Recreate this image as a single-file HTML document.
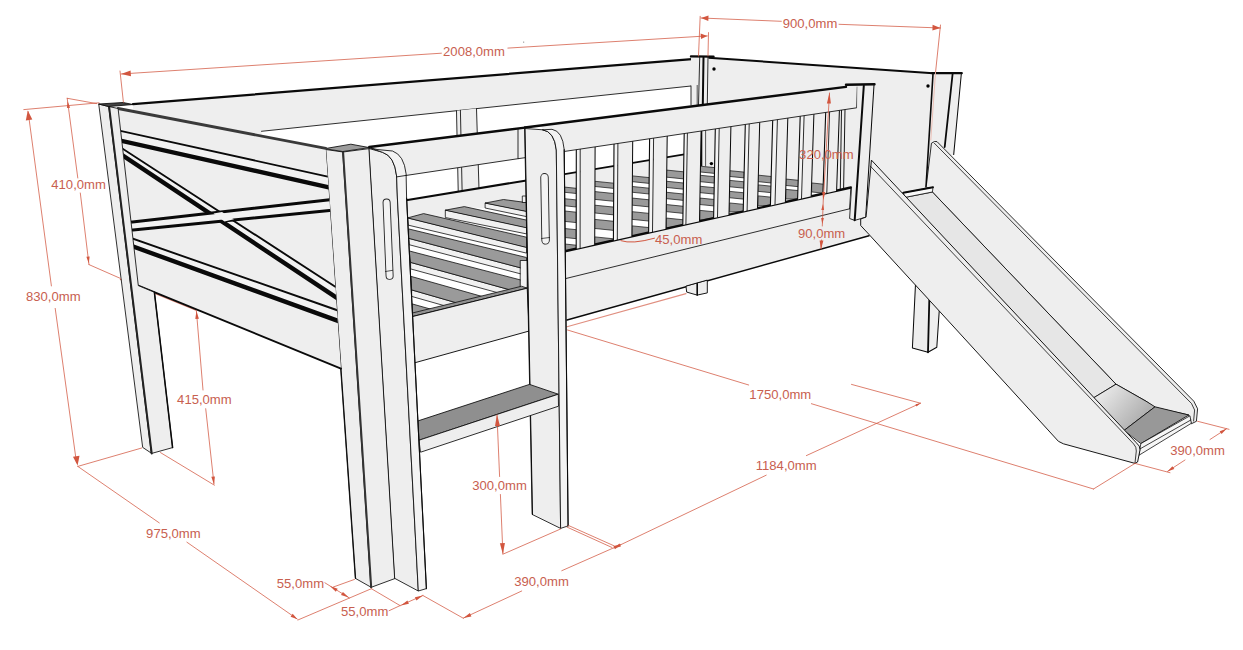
<!DOCTYPE html>
<html><head><meta charset="utf-8"><title>Bed with slide - dimensions</title>
<style>
html,body{margin:0;padding:0;background:#fff;}
body{width:1243px;height:650px;overflow:hidden;}
svg{display:block;font-family:"Liberation Sans",sans-serif;}
</style></head><body>
<svg width="1243" height="650" viewBox="0 0 1243 650" stroke-linejoin="round" stroke-linecap="round">
<rect width="1243" height="650" fill="#fff"/>
<polygon points="708.5,57.7 933,73.2 926,192 900,200 860,225 708,225" fill="#eeeeee" stroke="none" stroke-width="1.0" />
<polyline points="708.5,57.7 933,73.2" fill="none" stroke="#0a0a0a" stroke-width="2.0" />
<circle cx="714" cy="69" r="1.7" fill="#000"/>
<circle cx="928" cy="86" r="1.7" fill="#000"/>
<polygon points="933,73.2 961.5,73.2 953.7,154.6 940,160 926,187" fill="#eeeeee" stroke="none" stroke-width="1.0" />
<polyline points="933,74 926,187" fill="none" stroke="#0a0a0a" stroke-width="1.6" />
<polyline points="952.6,74 944.7,147" fill="none" stroke="#0a0a0a" stroke-width="1.8" />
<polyline points="961.3,74 953.7,154.6" fill="none" stroke="#0a0a0a" stroke-width="1.02" />
<polyline points="932,73.2 961.8,73.2" fill="none" stroke="#0a0a0a" stroke-width="2.2" />
<polygon points="133,104.2 699,58.5 699,85.2 261.5,131.3 261.5,140 133,112" fill="#eeeeee" stroke="none" stroke-width="1.0" />
<polyline points="261.5,131.3 691,86" fill="none" stroke="#0a0a0a" stroke-width="0.85" />
<polyline points="133,104.2 692,59.1" fill="none" stroke="#0a0a0a" stroke-width="2.2" />
<polygon points="691,57 708.5,57 707.3,106 691,106" fill="#eeeeee" stroke="none" stroke-width="1.0" />
<polyline points="691,86 691,105" fill="none" stroke="#0a0a0a" stroke-width="0.85" />
<polyline points="697.2,85.4 697.2,105" fill="none" stroke="#0a0a0a" stroke-width="0.68" />
<polyline points="699.7,57.5 698.5,105" fill="none" stroke="#0a0a0a" stroke-width="0.85" />
<polyline points="703.5,57.5 702.8,105" fill="none" stroke="#0a0a0a" stroke-width="2.0" />
<polyline points="708,57.5 707.3,105" fill="none" stroke="#0a0a0a" stroke-width="0.85" />
<polyline points="691,56.4 713.5,56.6" fill="none" stroke="#0a0a0a" stroke-width="2.4" />
<polygon points="456.5,110.8 476.5,108.6 479.2,195 458.3,195" fill="#eeeeee" stroke="none" stroke-width="1.0" />
<polyline points="456.5,110.8 458.3,195" fill="none" stroke="#0a0a0a" stroke-width="0.85" />
<polyline points="460.4,110.3 462.2,195" fill="none" stroke="#0a0a0a" stroke-width="0.85" />
<polyline points="476.5,108.6 479.2,195" fill="none" stroke="#0a0a0a" stroke-width="0.85" />
<polygon points="400,201.2 526.5,180.4 526.2,202.5 522.7,202.5 503.5,199.5 485.5,203 485.5,208.1 483.4,208.6 464.3,206.6 445.7,210.1 445.7,216.6 439.2,217.6 423.6,213.6 408,217.6 400,218" fill="#eeeeee" stroke="none" stroke-width="1.0" />
<polyline points="400,201.2 526.5,180.4" fill="none" stroke="#0a0a0a" stroke-width="2.0" />
<clipPath id="slc"><polygon points="400,190 527,190 527.2,288.2 405,318.4"/></clipPath>
<g clip-path="url(#slc)">
<polygon points="485.5,203 526.5,211.1 526.5,216.6 485.5,208.1" fill="#f1f1f1" stroke="#0a0a0a" stroke-width="0.77" />
<polygon points="485.5,203 503.5,199.5 526.5,202.6 526.5,211.1" fill="#9a9a9a" stroke="#0a0a0a" stroke-width="0.77" />
<polygon points="445.7,210.1 526.5,227.4 526.5,233.9 445.7,217.6" fill="#f1f1f1" stroke="#0a0a0a" stroke-width="0.77" />
<polygon points="445.7,210.1 464.3,206.6 526.5,220.1 526.5,227.4" fill="#9a9a9a" stroke="#0a0a0a" stroke-width="0.77" />
<polygon points="408,218 526.5,247.1 526.5,253.1 408.5,225.2" fill="#f1f1f1" stroke="#0a0a0a" stroke-width="0.77" />
<polygon points="408,217.8 423.6,213.6 526.5,237.2 526.5,247.1" fill="#9a9a9a" stroke="#0a0a0a" stroke-width="0.77" />
<polygon points="409,238.4 526.5,269.4 526.5,275.4 409.5,244.8" fill="#f1f1f1" stroke="#0a0a0a" stroke-width="0.77" />
<polygon points="409,229 526.5,257.5 526.5,269.4 409,238.4" fill="#9a9a9a" stroke="#0a0a0a" stroke-width="0.77" />
<polygon points="411,262.5 526.5,294.4 526.5,300.6 411,269" fill="#f1f1f1" stroke="#0a0a0a" stroke-width="0.77" />
<polygon points="409.5,251 526.5,281.5 526.5,294.4 411,262.5" fill="#9a9a9a" stroke="#0a0a0a" stroke-width="0.77" />
<polygon points="412,290 526.5,323 526.5,329 412,296.5" fill="#f1f1f1" stroke="#0a0a0a" stroke-width="0.77" />
<polygon points="411.5,276.5 526.5,309 526.5,323 412,290" fill="#9a9a9a" stroke="#0a0a0a" stroke-width="0.77" />
<polygon points="412.5,304 526.5,336 526.5,350 412.5,316" fill="#9a9a9a" stroke="#0a0a0a" stroke-width="0.77" />
</g>
<polygon points="520.6,260.5 527.2,260.5 527.2,288 520.6,288" fill="#f2f2f2" stroke="#0a0a0a" stroke-width="0.77" />
<polygon points="522.7,196 526.4,196 526.4,202.5 522.7,202.5" fill="#f2f2f2" stroke="#0a0a0a" stroke-width="0.77" />
<polygon points="405,314.8 521.7,286.2 527.2,288.2 405,318.4" fill="#909090" stroke="#0a0a0a" stroke-width="0.77" />
<polygon points="405,318.4 527.2,288.2 529.2,331 405,365.5" fill="#eeeeee" stroke="#0a0a0a" stroke-width="0.94" />
<clipPath id="gapsL"><polygon points="560,152.1 700.4,131.1 700.4,221 560,252.3"/></clipPath>
<g clip-path="url(#gapsL)">
<polygon points="560,174.9 701,151.6 701,240 560,255" fill="#eeeeee" stroke="none" stroke-width="1.0" />
<polyline points="560,174.9 701,151.6" fill="none" stroke="#0a0a0a" stroke-width="1.8" />
</g>
<polygon points="700.4,131.1 852,108.5 852,187.3 700.4,221" fill="#eeeeee" stroke="none" stroke-width="1.0" />
<polyline points="701.3,130 701.3,166" fill="none" stroke="#0a0a0a" stroke-width="2.0" />
<polyline points="705.6,130 705.6,166" fill="none" stroke="#0a0a0a" stroke-width="0.68" />
<circle cx="711.4" cy="163.6" r="1.7" fill="#000"/>
<polygon points="564.7,187.1 576.3,188.3 576.3,248.7 564.7,251.3" fill="#fff" stroke="none" stroke-width="1.0" />
<polygon points="564.7,187.1 576.3,188.3 576.3,193.5 564.7,192.3" fill="#9a9a9a" stroke="#0a0a0a" stroke-width="0.68" />
<polygon points="564.7,198.7 576.3,199.9 576.3,207 564.7,205.8" fill="#9a9a9a" stroke="#0a0a0a" stroke-width="0.68" />
<polygon points="564.7,211 576.3,212.2 576.3,222.6 564.7,221.4" fill="#9a9a9a" stroke="#0a0a0a" stroke-width="0.68" />
<polygon points="564.7,228.5 576.3,229.7 576.3,238.7 564.7,237.5" fill="#9a9a9a" stroke="#0a0a0a" stroke-width="0.68" />
<polygon points="564.7,244 576.3,245.2 576.3,248.7 564.7,251.3" fill="#9a9a9a" stroke="#0a0a0a" stroke-width="0.68" />
<polygon points="595,181.3 613.8,183.2 613.8,240.3 595,244.5" fill="#fff" stroke="none" stroke-width="1.0" />
<polygon points="595,181.3 613.8,183.2 613.8,188.4 595,186.5" fill="#9a9a9a" stroke="#0a0a0a" stroke-width="0.68" />
<polygon points="595,191.6 613.8,193.5 613.8,201.3 595,199.4" fill="#9a9a9a" stroke="#0a0a0a" stroke-width="0.68" />
<polygon points="595,205.2 613.8,207.1 613.8,214.9 595,213" fill="#9a9a9a" stroke="#0a0a0a" stroke-width="0.68" />
<polygon points="595,219.4 613.8,221.3 613.8,230.4 595,228.5" fill="#9a9a9a" stroke="#0a0a0a" stroke-width="0.68" />
<polygon points="595,236.9 613.8,238.8 613.8,240.3 595,244.5" fill="#9a9a9a" stroke="#0a0a0a" stroke-width="0.68" />
<polygon points="632.5,175.9 649.3,177.6 649.3,232.4 632.5,236.2" fill="#fff" stroke="none" stroke-width="1.0" />
<polygon points="632.5,175.9 649.3,177.6 649.3,183.4 632.5,181.7" fill="#9a9a9a" stroke="#0a0a0a" stroke-width="0.68" />
<polygon points="632.5,186.5 649.3,188.2 649.3,194 632.5,192.3" fill="#9a9a9a" stroke="#0a0a0a" stroke-width="0.68" />
<polygon points="632.5,198.1 649.3,199.8 649.3,206.9 632.5,205.2" fill="#9a9a9a" stroke="#0a0a0a" stroke-width="0.68" />
<polygon points="632.5,211.7 649.3,213.4 649.3,221.1 632.5,219.4" fill="#9a9a9a" stroke="#0a0a0a" stroke-width="0.68" />
<polygon points="632.5,225.9 649.3,227.6 649.3,232.4 632.5,236" fill="#9a9a9a" stroke="#0a0a0a" stroke-width="0.68" />
<polygon points="666.8,170.1 683.6,171.8 683.6,224.8 666.8,228.5" fill="#fff" stroke="none" stroke-width="1.0" />
<polygon points="666.8,170.1 683.6,171.8 683.6,178.9 666.8,177.2" fill="#9a9a9a" stroke="#0a0a0a" stroke-width="0.68" />
<polygon points="666.8,181.3 683.6,183 683.6,189.2 666.8,187.5" fill="#9a9a9a" stroke="#0a0a0a" stroke-width="0.68" />
<polygon points="666.8,192.3 683.6,194 683.6,200.4 666.8,198.7" fill="#9a9a9a" stroke="#0a0a0a" stroke-width="0.68" />
<polygon points="666.8,204.6 683.6,206.3 683.6,213.4 666.8,211.7" fill="#9a9a9a" stroke="#0a0a0a" stroke-width="0.68" />
<polygon points="666.8,218.1 683.6,219.8 683.6,224.8 666.8,228" fill="#9a9a9a" stroke="#0a0a0a" stroke-width="0.68" />
<polygon points="700.4,166.2 714.6,167.6 714.6,217.9 700.4,221" fill="#fff" stroke="none" stroke-width="1.0" />
<polygon points="700.4,166.2 714.6,167.6 714.6,173.4 700.4,172" fill="#9a9a9a" stroke="#0a0a0a" stroke-width="0.68" />
<polygon points="700.4,175.3 714.6,176.7 714.6,183.1 700.4,181.7" fill="#9a9a9a" stroke="#0a0a0a" stroke-width="0.68" />
<polygon points="700.4,186.3 714.6,187.7 714.6,194.1 700.4,192.7" fill="#9a9a9a" stroke="#0a0a0a" stroke-width="0.68" />
<polygon points="700.4,198.1 714.6,199.5 714.6,206 700.4,204.6" fill="#9a9a9a" stroke="#0a0a0a" stroke-width="0.68" />
<polygon points="700.4,210.4 714.6,211.8 714.6,217.9 700.4,220" fill="#9a9a9a" stroke="#0a0a0a" stroke-width="0.68" />
<polygon points="730,170.7 744.2,172.1 744.2,211.3 730,214.4" fill="#fff" stroke="none" stroke-width="1.0" />
<polygon points="730,170.7 744.2,172.1 744.2,177.9 730,176.5" fill="#9a9a9a" stroke="#0a0a0a" stroke-width="0.68" />
<polygon points="730,180.4 744.2,181.8 744.2,188.2 730,186.8" fill="#9a9a9a" stroke="#0a0a0a" stroke-width="0.68" />
<polygon points="730,191.4 744.2,192.8 744.2,199.2 730,197.8" fill="#9a9a9a" stroke="#0a0a0a" stroke-width="0.68" />
<polygon points="730,203 744.2,204.4 744.2,211.3 730,212" fill="#9a9a9a" stroke="#0a0a0a" stroke-width="0.68" />
<polygon points="758.5,175.2 771.4,176.5 771.4,205.2 758.5,208.1" fill="#fff" stroke="none" stroke-width="1.0" />
<polygon points="758.5,175.2 771.4,176.5 771.4,183 758.5,181.7" fill="#9a9a9a" stroke="#0a0a0a" stroke-width="0.68" />
<polygon points="758.5,184.9 771.4,186.2 771.4,192.7 758.5,191.4" fill="#9a9a9a" stroke="#0a0a0a" stroke-width="0.68" />
<polygon points="758.5,195.9 771.4,197.2 771.4,205.2 758.5,206" fill="#9a9a9a" stroke="#0a0a0a" stroke-width="0.68" />
<polygon points="786.3,179.1 798.5,180.3 798.5,199.2 786.3,201.9" fill="#fff" stroke="none" stroke-width="1.0" />
<polygon points="786.3,179.1 798.5,180.3 798.5,186.7 786.3,185.5" fill="#9a9a9a" stroke="#0a0a0a" stroke-width="0.68" />
<polygon points="786.3,189.4 798.5,190.6 798.5,199.2 786.3,199" fill="#9a9a9a" stroke="#0a0a0a" stroke-width="0.68" />
<polygon points="812.1,183 823.7,184.2 823.7,193.6 812.1,196.1" fill="#fff" stroke="none" stroke-width="1.0" />
<polygon points="812.1,183 823.7,184.2 823.7,193.2 812.1,192" fill="#9a9a9a" stroke="#0a0a0a" stroke-width="0.68" />
<polyline points="567,326.8 686,293.6" fill="none" stroke="#e08f80" stroke-width="1.1" />
<polygon points="566,278.5 849.6,208.8 869,235.7 567,320" fill="#eeeeee" stroke="none" stroke-width="1.0" />
<polyline points="567,320 869,235.7" fill="none" stroke="#0a0a0a" stroke-width="1.5" />
<polygon points="566,251 850.9,187.5 849.6,208.8 566,278.5" fill="#eeeeee" stroke="none" stroke-width="1.0" />
<polyline points="566,278.5 849.6,208.8" fill="none" stroke="#0a0a0a" stroke-width="0.85" />
<polyline points="566,251 850.9,187.5" fill="none" stroke="#0a0a0a" stroke-width="2.4" />
<polyline points="850.9,187.5 849.6,208.8" fill="none" stroke="#0a0a0a" stroke-width="0.85" />
<polygon points="576.3,149.7 580.2,149.1 580.1,247.9 576.2,248.7" fill="#f4f4f4" stroke="none" stroke-width="1.0" />
<polygon points="580.2,149.1 595.1,146.9 594.7,244.6 580.1,247.9" fill="#eeeeee" stroke="none" stroke-width="1.0" />
<polyline points="576.3,149.7 576.2,248.7" fill="none" stroke="#0a0a0a" stroke-width="1.1" />
<polyline points="580.2,149.1 580.1,247.9" fill="none" stroke="#0a0a0a" stroke-width="0.85" />
<polyline points="595.1,146.9 594.7,244.6" fill="none" stroke="#0a0a0a" stroke-width="1.02" />
<polygon points="614,144 617.9,143.5 617.3,239.6 613.4,240.4" fill="#f4f4f4" stroke="none" stroke-width="1.0" />
<polygon points="617.9,143.5 632.7,141.2 631.9,236.3 617.3,239.6" fill="#eeeeee" stroke="none" stroke-width="1.0" />
<polyline points="614,144 613.4,240.4" fill="none" stroke="#0a0a0a" stroke-width="1.1" />
<polyline points="617.9,143.5 617.3,239.6" fill="none" stroke="#0a0a0a" stroke-width="0.85" />
<polyline points="632.7,141.2 631.9,236.3" fill="none" stroke="#0a0a0a" stroke-width="1.02" />
<polygon points="649.6,138.7 653.6,138.1 652.5,231.7 648.6,232.6" fill="#f4f4f4" stroke="none" stroke-width="1.0" />
<polygon points="653.6,138.1 667.2,136.1 666,228.7 652.5,231.7" fill="#eeeeee" stroke="none" stroke-width="1.0" />
<polyline points="649.6,138.7 648.6,232.6" fill="none" stroke="#0a0a0a" stroke-width="1.1" />
<polyline points="653.6,138.1 652.5,231.7" fill="none" stroke="#0a0a0a" stroke-width="0.85" />
<polyline points="667.2,136.1 666,228.7" fill="none" stroke="#0a0a0a" stroke-width="1.02" />
<polygon points="684.2,133.6 687.4,133.1 685.9,224.3 682.8,225" fill="#f4f4f4" stroke="none" stroke-width="1.0" />
<polygon points="687.4,133.1 701.1,131 699.5,221.2 685.9,224.3" fill="#eeeeee" stroke="none" stroke-width="1.0" />
<polyline points="684.2,133.6 682.8,225" fill="none" stroke="#0a0a0a" stroke-width="1.1" />
<polyline points="687.4,133.1 685.9,224.3" fill="none" stroke="#0a0a0a" stroke-width="0.85" />
<polyline points="701.1,131 699.5,221.2" fill="none" stroke="#0a0a0a" stroke-width="1.02" />
<polygon points="715.3,128.9 719.2,128.3 717.5,217.2 713.6,218.1" fill="#f4f4f4" stroke="none" stroke-width="1.0" />
<polygon points="719.2,128.3 730.9,126.6 729,214.7 717.5,217.2" fill="#eeeeee" stroke="none" stroke-width="1.0" />
<polyline points="715.3,128.9 713.6,218.1" fill="none" stroke="#0a0a0a" stroke-width="1.1" />
<polyline points="719.2,128.3 717.5,217.2" fill="none" stroke="#0a0a0a" stroke-width="0.85" />
<polyline points="730.9,126.6 729,214.7" fill="none" stroke="#0a0a0a" stroke-width="1.02" />
<polygon points="745.3,124.4 749.2,123.8 747.1,210.6 743.2,211.5" fill="#f4f4f4" stroke="none" stroke-width="1.0" />
<polygon points="749.2,123.8 759.7,122.3 757.5,208.3 747.1,210.6" fill="#eeeeee" stroke="none" stroke-width="1.0" />
<polyline points="745.3,124.4 743.2,211.5" fill="none" stroke="#0a0a0a" stroke-width="1.1" />
<polyline points="749.2,123.8 747.1,210.6" fill="none" stroke="#0a0a0a" stroke-width="0.85" />
<polyline points="759.7,122.3 757.5,208.3" fill="none" stroke="#0a0a0a" stroke-width="1.02" />
<polygon points="772.7,120.3 777.4,119.6 775,204.4 770.4,205.4" fill="#f4f4f4" stroke="none" stroke-width="1.0" />
<polygon points="777.4,119.6 787.8,118.1 785.4,202.1 775,204.4" fill="#eeeeee" stroke="none" stroke-width="1.0" />
<polyline points="772.7,120.3 770.4,205.4" fill="none" stroke="#0a0a0a" stroke-width="1.1" />
<polyline points="777.4,119.6 775,204.4" fill="none" stroke="#0a0a0a" stroke-width="0.85" />
<polyline points="787.8,118.1 785.4,202.1" fill="none" stroke="#0a0a0a" stroke-width="1.02" />
<polygon points="800.2,116.2 804.1,115.7 801.5,198.5 797.6,199.4" fill="#f4f4f4" stroke="none" stroke-width="1.0" />
<polygon points="804.1,115.7 813.9,114.2 811.2,196.3 801.5,198.5" fill="#eeeeee" stroke="none" stroke-width="1.0" />
<polyline points="800.2,116.2 797.6,199.4" fill="none" stroke="#0a0a0a" stroke-width="1.1" />
<polyline points="804.1,115.7 801.5,198.5" fill="none" stroke="#0a0a0a" stroke-width="0.85" />
<polyline points="813.9,114.2 811.2,196.3" fill="none" stroke="#0a0a0a" stroke-width="1.02" />
<polygon points="825.7,112.4 829.6,111.8 826.8,192.9 822.9,193.7" fill="#f4f4f4" stroke="none" stroke-width="1.0" />
<polygon points="829.6,111.8 839.4,110.4 836.6,190.7 826.8,192.9" fill="#eeeeee" stroke="none" stroke-width="1.0" />
<polyline points="825.7,112.4 822.9,193.7" fill="none" stroke="#0a0a0a" stroke-width="1.1" />
<polyline points="829.6,111.8 826.8,192.9" fill="none" stroke="#0a0a0a" stroke-width="0.85" />
<polyline points="839.4,110.4 836.6,190.7" fill="none" stroke="#0a0a0a" stroke-width="1.02" />
<polyline points="841.5,110.1 840.3,189.9" fill="none" stroke="#0a0a0a" stroke-width="0.94" />
<polyline points="845,109.5 843.6,189.1" fill="none" stroke="#0a0a0a" stroke-width="0.94" />
<polygon points="540,125.6 857.3,85.5 856.7,107.8 560,152.1 552,140" fill="#eeeeee" stroke="none" stroke-width="1.0" />
<polyline points="560,152.1 856.7,107.8 857.3,87" fill="none" stroke="#0a0a0a" stroke-width="0.85" />
<polyline points="525,127.5 846,86.9" fill="none" stroke="#0a0a0a" stroke-width="2.4" />
<polygon points="857.3,85.5 874,84.5 865.7,217.2 854.7,220.4 849.6,218.5 851.2,187.5 856.7,187.5" fill="#eeeeee" stroke="none" stroke-width="1.0" />
<polyline points="851.5,187.5 849.6,218.5 854.7,220.4 865.7,217.2" fill="none" stroke="#0a0a0a" stroke-width="0.85" />
<polyline points="863.8,85.8 854.7,220.2" fill="none" stroke="#0a0a0a" stroke-width="2.0" />
<polyline points="874,85 865.7,217.2" fill="none" stroke="#0a0a0a" stroke-width="1.02" />
<polyline points="846,84.8 874.5,84.3" fill="none" stroke="#0a0a0a" stroke-width="2.4" />
<polygon points="369.3,147 525,127.6 525,157.7 396.4,176.9 380,178" fill="#eeeeee" stroke="none" stroke-width="1.0" />
<polyline points="396.4,176.9 518,158.7" fill="none" stroke="#0a0a0a" stroke-width="0.85" />
<polyline points="518,128.7 518,158.7 525,157.7" fill="none" stroke="#0a0a0a" stroke-width="0.85" />
<polyline points="369.3,147 525,127.6" fill="none" stroke="#0a0a0a" stroke-width="2.4" />
<path d="M525,128.5 L542.7,129.8 Q554.5,131.5 556.3,150 L560.6,528.4 L532.5,514.6 Z" fill="#eeeeee" stroke="#0a0a0a" stroke-width="0.85" />
<path d="M542.7,129.8 L552,129.3 Q562.5,131 564.2,149.5 L568.1,525.9 L560.6,528.4 L556.3,150 Q554.5,131.5 542.7,129.8 Z" fill="#f3f3f3" stroke="#0a0a0a" stroke-width="0.85" />
<polyline points="525,128.5 532.5,514.6" fill="none" stroke="#0a0a0a" stroke-width="1.02" />
<polyline points="564.2,149.5 568.1,525.9" fill="none" stroke="#0a0a0a" stroke-width="1.1" />
<polyline points="544.5,177.3 545.6,240.4" fill="none" stroke="#222" stroke-width="8.4" />
<polyline points="544.5,177.3 545.6,240.4" fill="none" stroke="#f3f3f3" stroke-width="6.6000000000000005" />
<polyline points="541.6,238.5 549.6,237.5" fill="none" stroke="#0a0a0a" stroke-width="0.68" />
<polygon points="418.3,420.8 529.5,384.4 558.3,394.2 419.3,440.1" fill="#8f8f8f" stroke="#0a0a0a" stroke-width="0.85" />
<polygon points="419.3,440.1 558.3,394.2 558.5,406.2 420.9,452.1" fill="#eeeeee" stroke="#0a0a0a" stroke-width="0.85" />
<polygon points="325.7,149.5 343.1,152 371.2,587.3 355.6,578.5" fill="#eeeeee" stroke="#0a0a0a" stroke-width="0.85" />
<polygon points="343.1,152 369.3,148.6 395,578.5 371.2,587.3" fill="#eeeeee" stroke="#0a0a0a" stroke-width="0.85" />
<polyline points="343.1,152 371.2,587.3" fill="none" stroke="#333" stroke-width="2.0" />
<path d="M369.3,148.6 L382.8,152.4 Q394.5,156 396.6,176 L397.4,198 L418.3,591 L395,578.5 Z" fill="#eeeeee" stroke="#0a0a0a" stroke-width="0.85" />
<path d="M369.3,147.6 L377,149.5 L392.5,151 Q404,155 406.1,173.8 L406.6,198 L426.4,588.6 L418.3,591 L397.4,198 L396.6,176 Q394.5,156 382.8,152.4 Z" fill="#f3f3f3" stroke="#0a0a0a" stroke-width="0.85" />
<polyline points="406.6,198 426.4,588.6" fill="none" stroke="#0a0a0a" stroke-width="1.1" />
<polyline points="325.7,149.5 355.6,578.5" fill="none" stroke="#0a0a0a" stroke-width="1.1" />
<polygon points="325.2,148.6 350.9,144.2 369.3,147.6 343.1,151.5" fill="#9c9c9c" stroke="#0a0a0a" stroke-width="0.85" />
<polyline points="396.6,176.9 406.3,175.4" fill="none" stroke="#0a0a0a" stroke-width="0.85" />
<polyline points="386.6,202.5 389.6,275.8" fill="none" stroke="#222" stroke-width="8.0" />
<polyline points="386.6,202.5 389.6,275.8" fill="none" stroke="#f3f3f3" stroke-width="6.2" />
<polyline points="385.5,271.5 392.6,270.3" fill="none" stroke="#0a0a0a" stroke-width="0.68" />
<polyline points="120.4,279.4 196,310.3" fill="none" stroke="#dd8070" stroke-width="1.2" />
<polygon points="118.1,108.5 325.8,148.8 341,368.6 138.3,285.6" fill="#eeeeee" stroke="none" stroke-width="1.0" />
<clipPath id="hb"><polygon points="118.1,108.5 325.8,148.8 341,368.6 138.3,285.6"/></clipPath>
<g clip-path="url(#hb)">
<polygon points="118,130.4 330,177.1 330,187.6 118,140.1" fill="#f2f2f2" stroke="none" stroke-width="1.0" />
<polyline points="118,130.4 330,177.1" fill="none" stroke="#0a0a0a" stroke-width="1.9" />
<polyline points="118,140.1 330,187.6" fill="none" stroke="#0a0a0a" stroke-width="4.4" />
<polygon points="118,233.5 338,310.5 338,320.9 118,241" fill="#f2f2f2" stroke="none" stroke-width="1.0" />
<polyline points="118,233.5 338,310.5" fill="none" stroke="#0a0a0a" stroke-width="1.9" />
<polyline points="118,241 338,320.9" fill="none" stroke="#0a0a0a" stroke-width="4.4" />
<polygon points="118,145.7 338,288.5 338,298.7 118,152.4" fill="#f2f2f2" stroke="none" stroke-width="1.0" />
<polyline points="118,145.7 338,288.5" fill="none" stroke="#0a0a0a" stroke-width="1.9" />
<polyline points="118,152.4 338,298.7" fill="none" stroke="#0a0a0a" stroke-width="4.4" />
<polygon points="128,222.4 332,199.5 332,210.2 128,230.5" fill="#f2f2f2" stroke="none" stroke-width="1.0" />
<polyline points="128,222.4 332,199.5" fill="none" stroke="#0a0a0a" stroke-width="3.0" />
<polyline points="128,230.5 332,210.2" fill="none" stroke="#0a0a0a" stroke-width="3.0" />
<polygon points="213.5,213.6 222,212 234,219.3 224.5,221.5" fill="#f2f2f2" stroke="none" stroke-width="1.0" />
</g>
<polyline points="118.1,108.5 325.8,148.4" fill="none" stroke="#3a3a3a" stroke-width="2.9" />
<polyline points="138.3,285.6 341,368.6" fill="none" stroke="#0a0a0a" stroke-width="1.8" />
<polygon points="99.1,104.1 109.1,106.6 151.7,453.4 143,447.6" fill="#eeeeee" stroke="#0a0a0a" stroke-width="0.85" />
<polygon points="109.1,106.6 118.1,108.5 138.3,285.6 154.4,292.3 172.6,447.6 151.7,453.4" fill="#eeeeee" stroke="#0a0a0a" stroke-width="0.85" />
<polyline points="109.1,106.6 151.7,453.4" fill="none" stroke="#222" stroke-width="2.0" />
<polyline points="154.4,292.3 172.6,447.6" fill="none" stroke="#0a0a0a" stroke-width="1.5" />
<polygon points="99,104 123,102.5 133,104.5 109,106.5" fill="#444" stroke="#0a0a0a" stroke-width="0.85" />
<polygon points="931.8,143 934.5,141.5 937,141.6 1193.8,401.2 1197.6,408.8 1196.4,421.3 1191.3,423.8 1188.8,415 1155,407.5 1146,401.2 1116,384.2 932.4,192 926.5,187" fill="#eeeeee" stroke="#0a0a0a" stroke-width="0.85" />
<polyline points="934.3,143.2 1191.5,403.5 1194.6,410 1193.6,421" fill="none" stroke="#0a0a0a" stroke-width="0.77" />
<linearGradient id="cg" gradientUnits="userSpaceOnUse" x1="1105" y1="390" x2="1140" y2="420"><stop offset="0" stop-color="#e6e6e6"/><stop offset="1" stop-color="#b0b0b0"/></linearGradient>
<polygon points="906,197.2 932.4,192 1116,384.2 1094,397.6" fill="#e6e6e6" stroke="#0a0a0a" stroke-width="0.85" />
<polygon points="1094,397.6 1116,384.2 1146,401.2 1155,406.8 1124.5,430.1" fill="url(#cg)" stroke="#0a0a0a" stroke-width="0.85" />
<polygon points="1124.5,430.1 1155,406.8 1188.8,415 1141.2,443.4" fill="#989898" stroke="#0a0a0a" stroke-width="0.85" />
<polygon points="1141.2,443.4 1190,415.8 1191.3,423.3 1139.2,455.1" fill="#f6f6f6" stroke="#0a0a0a" stroke-width="0.77" />
<polyline points="1140,448.9 1190.8,420" fill="none" stroke="#0a0a0a" stroke-width="0.77" />
<polygon points="903.3,192.7 933,187.3 932.4,192 906,197.2" fill="#f8f8f8" stroke="#0a0a0a" stroke-width="0.77" />
<polyline points="903.3,192.7 933,187.3" fill="none" stroke="#0a0a0a" stroke-width="2.0" />
<polygon points="915.5,284 939.3,310 936.8,347.3 928,352.3 912.4,348" fill="#eeeeee" stroke="#0a0a0a" stroke-width="1.02" />
<polyline points="929.3,300 928,352.3" fill="none" stroke="#0a0a0a" stroke-width="1.8" />
<path d="M871.7,160.4 L1136.2,442.6 Q1140.5,446 1140,450 L1137.6,462 L1135,463.4 L1063.4,443.8 L1058.4,441.3 L953,326 L869.7,235.2 L860.7,225.5 L860.7,219 L865.7,217.2 Z" fill="#eeeeee" stroke="#0a0a0a" stroke-width="0.94" />
<path d="M870.4,166.2 L1133.6,443.9 Q1136.6,447 1136.3,451 L1135,463" fill="none" stroke="#0a0a0a" stroke-width="0.77" />
<polygon points="686,286.5 686.7,292.1 697.2,295.1 707.3,292.9 707.3,280.5" fill="#eeeeee" stroke="#0a0a0a" stroke-width="0.94" />
<polyline points="697.2,283.5 697.2,295.1" fill="none" stroke="#0a0a0a" stroke-width="1.6" />
<g id="dims">
<polyline points="120,71 123.4,102.3" fill="none" stroke="#d2563f" stroke-width="0.75" />
<polyline points="708.5,32.6 708,56" fill="none" stroke="#d2563f" stroke-width="0.75" />
<polyline points="121.1,74 441.4,53.2" fill="none" stroke="#d2563f" stroke-width="0.75" />
<polyline points="507.9,48.1 707.3,35.9" fill="none" stroke="#d2563f" stroke-width="0.75" />
<polygon points="121.1,74 130.6,70.5 131,76.3" fill="#d2563f"/>
<polygon points="707.3,35.9 701,39 700.6,33.6" fill="#d2563f"/>
<text x="474" y="56.1" font-size="13.1" text-anchor="middle" fill="#c8604f">2008,0mm</text>
<circle cx="523.7" cy="42.1" r="0.6" fill="#777"/>
<polyline points="700.2,16.3 698.5,56" fill="none" stroke="#d2563f" stroke-width="0.75" />
<polyline points="940.5,25 935.5,72.7" fill="none" stroke="#d2563f" stroke-width="0.75" />
<polyline points="935.5,72.7 930.8,140" fill="none" stroke="#ecc0b6" stroke-width="1.0" />
<polyline points="701,18 781.3,21.3" fill="none" stroke="#d2563f" stroke-width="0.75" />
<polyline points="839,24.3 940.5,28" fill="none" stroke="#d2563f" stroke-width="0.75" />
<polygon points="701,18 708.5,15.6 708.3,21.1" fill="#d2563f"/>
<polygon points="940.5,28 932.4,30.6 932.6,24.8" fill="#d2563f"/>
<text x="810" y="27.7" font-size="13.1" text-anchor="middle" fill="#c8604f">900,0mm</text>
<polyline points="23.8,109.6 99,102.8" fill="none" stroke="#d2563f" stroke-width="0.75" />
<polyline points="77.8,466.4 141.7,448" fill="none" stroke="#d2563f" stroke-width="0.75" />
<polyline points="28.1,111.6 51.4,285.9" fill="none" stroke="#d2563f" stroke-width="0.75" />
<polyline points="55.2,308.4 76.5,462.7" fill="none" stroke="#d2563f" stroke-width="0.75" />
<polygon points="27.8,110.5 32.3,119.5 25.8,120.4" fill="#d2563f"/>
<polygon points="77.6,465.6 73,456.7 79.5,455.7" fill="#d2563f"/>
<text x="53.3" y="301.1" font-size="13.1" text-anchor="middle" fill="#c8604f">830,0mm</text>
<polyline points="67.2,98.3 96.6,103.6" fill="none" stroke="#d2563f" stroke-width="0.75" />
<polyline points="67.2,98.3 77.8,178" fill="none" stroke="#d2563f" stroke-width="0.75" />
<polyline points="80.3,193 89,264.6" fill="none" stroke="#d2563f" stroke-width="0.75" />
<polyline points="89,264.6 120.4,278.4" fill="none" stroke="#d2563f" stroke-width="0.75" />
<polygon points="67.6,101 70.1,107.7 66.9,108.1" fill="#d2563f"/>
<polygon points="88.8,263.5 86.4,256.7 89.6,256.4" fill="#d2563f"/>
<text x="78.6" y="188.9" font-size="13.1" text-anchor="middle" fill="#c8604f">410,0mm</text>
<polyline points="196.4,311 203,390" fill="none" stroke="#d2563f" stroke-width="0.75" />
<polyline points="205.7,408.7 214,484" fill="none" stroke="#d2563f" stroke-width="0.75" />
<polygon points="196.4,311 198.9,318.8 195.3,319.1" fill="#d2563f"/>
<polygon points="214,484.5 211.3,476.7 214.9,476.4" fill="#d2563f"/>
<polyline points="160.5,452.6 214.4,485.2" fill="none" stroke="#d2563f" stroke-width="0.75" />
<text x="204.4" y="404.4" font-size="13.1" text-anchor="middle" fill="#c8604f">415,0mm</text>
<polyline points="77.8,466.4 159.3,522.9" fill="none" stroke="#d2563f" stroke-width="0.75" />
<polyline points="186.9,542.2 297.2,619" fill="none" stroke="#d2563f" stroke-width="0.75" />
<polygon points="297.4,619.2 290.6,616.7 292.7,613.7" fill="#d2563f"/>
<polyline points="297.9,620 371.4,588.7" fill="none" stroke="#d2563f" stroke-width="0.75" />
<text x="173.4" y="537.8" font-size="13.1" text-anchor="middle" fill="#c8604f">975,0mm</text>
<polyline points="324.9,582.8 349.4,598" fill="none" stroke="#d2563f" stroke-width="0.75" />
<polygon points="330,586 337.7,588.8 335.8,591.8" fill="#d2563f"/>
<polygon points="348.8,597.6 341,594.9 342.9,591.9" fill="#d2563f"/>
<polyline points="333.4,587 354.5,579.4" fill="none" stroke="#d2563f" stroke-width="0.75" />
<text x="300.4" y="587.9" font-size="13.1" text-anchor="middle" fill="#c8604f">55,0mm</text>
<polyline points="371.4,588.7 400.1,605.6" fill="none" stroke="#d2563f" stroke-width="0.75" />
<polyline points="389.1,610.7 400.1,605.6 422.9,595.5" fill="none" stroke="#d2563f" stroke-width="0.75" />
<polygon points="400.9,605.5 407.4,600.6 408.9,603.8" fill="#d2563f"/>
<polygon points="422.9,595.5 416.4,600.4 414.9,597.2" fill="#d2563f"/>
<text x="364.7" y="616.1" font-size="13.1" text-anchor="middle" fill="#c8604f">55,0mm</text>
<polyline points="422.9,595.5 463.4,618.3" fill="none" stroke="#d2563f" stroke-width="0.75" />
<polyline points="463.5,618 521.7,591" fill="none" stroke="#d2563f" stroke-width="0.75" />
<polyline points="561.8,570.7 620.8,544.7" fill="none" stroke="#d2563f" stroke-width="0.75" />
<polygon points="463.4,618.1 469.9,613.1 471.4,616.4" fill="#d2563f"/>
<polygon points="621.5,544.3 614.9,549.2 613.5,545.9" fill="#d2563f"/>
<polygon points="613,548.4 619.5,543.5 620.9,546.4" fill="#d2563f"/>
<polyline points="566.8,527 612,547.5" fill="none" stroke="#d2563f" stroke-width="0.75" />
<polyline points="568.5,525.5 614,545.8" fill="none" stroke="#d2563f" stroke-width="0.75" />
<text x="541.5" y="585.7" font-size="13.1" text-anchor="middle" fill="#c8604f">390,0mm</text>
<polyline points="497,415 499.6,476.5" fill="none" stroke="#d2563f" stroke-width="0.75" />
<polyline points="500.4,494.5 502.9,553.5" fill="none" stroke="#d2563f" stroke-width="0.75" />
<polygon points="497,414.5 500,425.9 495,426.1" fill="#d2563f"/>
<polygon points="502.9,554.2 499.9,543.3 504.9,543.1" fill="#d2563f"/>
<polyline points="502.9,554.2 560.6,529" fill="none" stroke="#d2563f" stroke-width="0.75" />
<text x="499.5" y="489.9" font-size="13.1" text-anchor="middle" fill="#c8604f">300,0mm</text>
<polyline points="567.5,330 748.7,385" fill="none" stroke="#d2563f" stroke-width="0.75" />
<polyline points="811.4,403.7 1093.5,489" fill="none" stroke="#d2563f" stroke-width="0.75" />
<polyline points="1093.5,489 1135,463.4" fill="none" stroke="#d2563f" stroke-width="0.75" />
<text x="780.3" y="398.9" font-size="13.1" text-anchor="middle" fill="#c8604f">1750,0mm</text>
<polyline points="620.8,544.7 766.2,475.2" fill="none" stroke="#d2563f" stroke-width="0.75" />
<polyline points="806.4,455.6 920.5,403.2" fill="none" stroke="#d2563f" stroke-width="0.75" />
<polyline points="851.5,384.4 920.5,403.2" fill="none" stroke="#d2563f" stroke-width="0.75" />
<polygon points="920.5,403.2 916.5,406.4 915.5,404.2" fill="#d2563f"/>
<text x="786.2" y="470.3" font-size="13.1" text-anchor="middle" fill="#c8604f">1184,0mm</text>
<polyline points="1197.6,421.3 1229,429.3" fill="none" stroke="#d2563f" stroke-width="0.75" />
<polyline points="1135,463.4 1170,472.7" fill="none" stroke="#d2563f" stroke-width="0.75" />
<polyline points="1167.5,471.4 1185,460" fill="none" stroke="#d2563f" stroke-width="0.75" />
<polyline points="1210,439.5 1226.5,428.8" fill="none" stroke="#d2563f" stroke-width="0.75" />
<polygon points="1167.5,471.4 1172.4,466.2 1174.3,469" fill="#d2563f"/>
<polygon points="1226.5,428.8 1221.6,434 1219.7,431.2" fill="#d2563f"/>
<text x="1197.6" y="454.5" font-size="13.1" text-anchor="middle" fill="#c8604f">390,0mm</text>
<path d="M620.9,240.7 Q632,244.5 654.5,238.2" fill="none" stroke="#d2563f" stroke-width="1.0" />
<text x="678.7" y="243.6" font-size="13.1" text-anchor="middle" fill="#c8604f">45,0mm</text>
<polyline points="829.5,93 823.7,194" fill="none" stroke="#d2563f" stroke-width="0.75" />
<polygon points="829.5,92.5 830.9,103.6 826.9,103.4" fill="#d2563f"/>
<polygon points="823.3,200 822.2,191.9 825.4,192.1" fill="#d2563f"/>
<text x="826.4" y="158.9" font-size="13.1" text-anchor="middle" fill="#c8604f">320,0mm</text>
<polyline points="823.5,194 822.3,226" fill="none" stroke="#d2563f" stroke-width="0.75" />
<polyline points="821.5,240 821,249" fill="none" stroke="#d2563f" stroke-width="0.75" />
<polygon points="823,204 824.1,210.1 821.3,209.9" fill="#d2563f"/>
<polygon points="822.3,224 821.1,218 823.9,218.1" fill="#d2563f"/>
<polygon points="821,249.5 819.6,240.4 823.4,240.6" fill="#d2563f"/>
<text x="821.6" y="237.6" font-size="13.1" text-anchor="middle" fill="#c8604f">90,0mm</text>
</g>
</svg>
</body></html>
